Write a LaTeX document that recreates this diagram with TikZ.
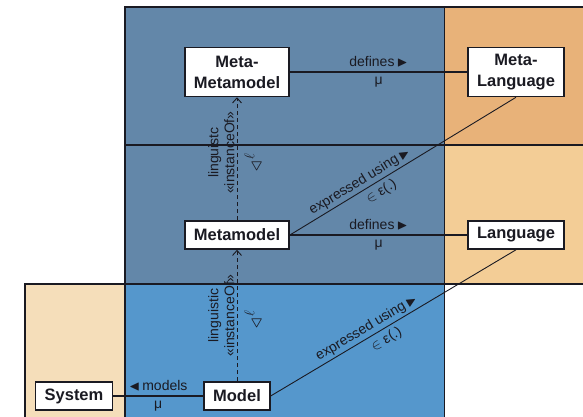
\documentclass[tikz,border=0pt]{standalone}
\usepackage{amsmath,amssymb}
\usepackage{fontspec}
\setmainfont{Liberation Sans}
\usetikzlibrary{arrows.meta}
\definecolor{metablue}{HTML}{6387A9}
\definecolor{modelblue}{HTML}{5597CC}
\definecolor{metaorange}{HTML}{E8B279}
\definecolor{langorange}{HTML}{F3CD96}
\definecolor{systemtan}{HTML}{F5DEBA}
\definecolor{ink}{HTML}{1A1A22}

\begin{document}
\begin{tikzpicture}[x=1pt,y=-1pt,
  conceptbox/.style={draw=ink, line width=1.6pt, fill=white, text=ink,
    font=\fontsize{16.5}{21}\selectfont\bfseries, inner xsep=9pt, inner ysep=2pt,
    minimum height=28pt, align=center},
  rel/.style={draw=ink, line width=1.4pt},
  thinrel/.style={draw=ink, line width=0.9pt},
  inst/.style={draw=ink, line width=0.9pt, dash pattern=on 4pt off 3pt,
    -{Straight Barb[length=5pt,width=9pt]}},
  lbl/.style={font=\fontsize{14}{16}\selectfont, text=ink, inner sep=2pt,
    text height=10pt, text depth=3pt},
  instlbl/.style={font=\fontsize{14}{16}\selectfont, text=ink, inner sep=2pt,
    rotate=90, align=center},
  instsym/.style={font=\fontsize{20}{22}\selectfont, text=ink, inner sep=1pt,
    rotate=90}]
\useasboundingbox (0,0) rectangle (583,417);
% levels and spaces
\fill[metablue] (125,7) rectangle (444,284);
\fill[modelblue] (125,284) rectangle (444,417);
\fill[metaorange] (444,7) rectangle (583,145);
\fill[langorange] (444,145) rectangle (583,284);
\fill[systemtan] (25,284) rectangle (125,417);
\draw[ink, line width=0.8pt] (444,7) -- (444,417);
\draw[ink, line width=1.6pt] (583,7) -- (125,7) -- (125,417);
\draw[ink, line width=1.4pt] (125,145) -- (583,145);
\draw[ink, line width=1.6pt] (25,417) -- (25,284) -- (583,284);

% concepts
\node[conceptbox, minimum height=49pt] (metametamodel) at (237,72) {Meta-\\Metamodel};
\node[conceptbox, minimum height=49pt] (metalanguage) at (516,72) {Meta-\\Language};
\node[conceptbox] (metamodel) at (237,235) {Metamodel};
\node[conceptbox] (language) at (516,235) {Language};
\node[conceptbox] (model) at (237,396) {Model};
\node[conceptbox] (system) at (74,396) {System};

% relations
\draw[rel] (metametamodel) -- node[lbl, above]{defines\,$\blacktriangleright$} node[lbl, below]{μ} (metalanguage);
\draw[rel] (metamodel) -- node[lbl, above]{defines\,$\blacktriangleright$} node[lbl, below]{μ} (language);
\draw[rel] (model) -- node[lbl, above]{$\blacktriangleleft$\,models} node[lbl, below]{μ} (system);
\draw[thinrel] (metamodel.east) -- node[lbl, sloped, above, pos=.33]{expressed using\,$\blacktriangleright$}
  node[lbl, sloped, below=2pt, pos=.38]{$\in$ ε(.)} (metalanguage.south);
\draw[thinrel] (model.east) -- node[lbl, sloped, above, pos=.41]{expressed using\,$\blacktriangleright$}
  node[lbl, sloped, below=2pt, pos=.45]{$\in$ ε(.)} (language.south);
\draw[inst] (metamodel) -- node[instlbl, above, pos=.55]{linguistc\\«instanceOf»}
  node[instsym, below=6pt, pos=.47]{$\triangleleft\mkern2mu^{\ell}$} (metametamodel);
\draw[inst] (model) -- node[instlbl, above, pos=.5]{linguistic\\«instanceOf»}
  node[instsym, below=6pt, pos=.47]{$\triangleleft\mkern2mu^{\ell}$} (metamodel);
\end{tikzpicture}
\end{document}
